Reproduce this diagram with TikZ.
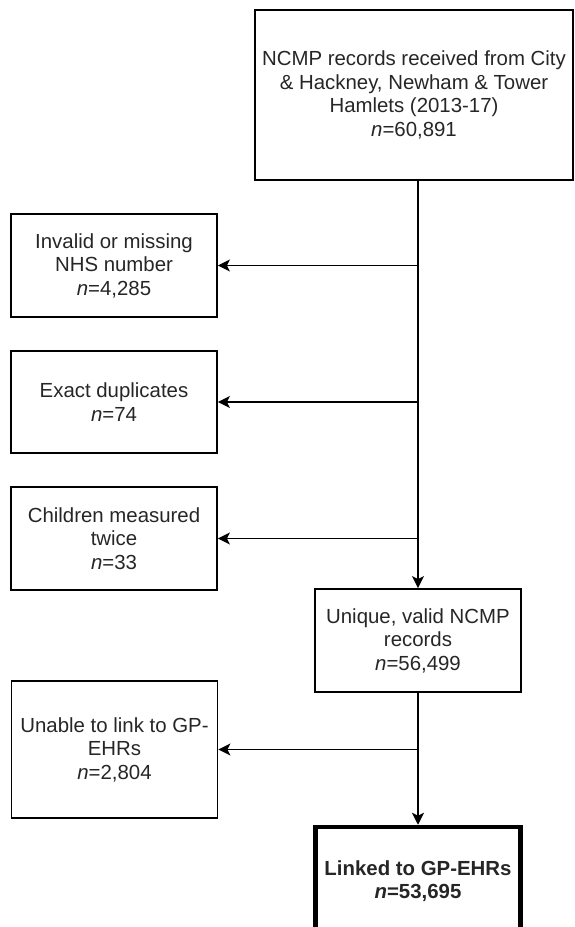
\documentclass[tikz,border=0pt]{standalone}
\usepackage{fontspec}
\setmainfont{Liberation Sans}
\usetikzlibrary{arrows.meta,calc}
\begin{document}
\begin{tikzpicture}[x=1pt,y=-1pt,
  box/.style={draw, line width=1.8pt, align=center, inner sep=0pt, text=black!85,
    font=\fontsize{20.4}{23.5}\selectfont},
  sidebox/.style={box, minimum width=206pt},
  arr/.style={line width=1.8pt, -{Stealth[length=12pt,width=12pt,inset=3pt]}}]
\useasboundingbox (0,0) rectangle (574,927);
\node[box, minimum width=318pt, minimum height=170pt] (top) at (414,95)
  {NCMP records received from City\\ \& Hackney, Newham \& Tower\\ Hamlets (2013-17)\\ \textit{n}=60,891};
\node[sidebox, minimum height=103pt] (b1) at (114,265.5)
  {Invalid or missing\\ NHS number\\ \textit{n}=4,285};
\node[sidebox, minimum height=102pt] (b2) at (114,402)
  {Exact duplicates\\ \textit{n}=74};
\node[sidebox, minimum height=103pt] (b3) at (114,538.5)
  {Children measured\\ twice\\ \textit{n}=33};
\node[box, minimum width=206pt, minimum height=103pt] (uniq) at (418,640.5)
  {Unique, valid NCMP\\ records\\ \textit{n}=56,499};
\node[sidebox, minimum height=137pt] (b5) at (114.5,749.5)
  {Unable to link to GP-\\ EHRs\\ \textit{n}=2,804};
\node[box, line width=4.5pt, minimum width=205pt, minimum height=108pt, font=\fontsize{20.4}{23.5}\selectfont\bfseries] (linked) at (418,881)
  {Linked to GP-EHRs\\ \textit{n}=53,695};
\draw[arr] (uniq.north |- top.south) -- (uniq.north);
\draw[arr] (uniq.north |- b1.east) -- (b1.east);
\draw[arr] (uniq.north |- b2.east) -- (b2.east);
\draw[arr] (uniq.north |- b3.east) -- (b3.east);
\draw[arr] (uniq.south) -- (linked.north);
\draw[arr] (uniq.south |- b5.east) -- (b5.east);
\end{tikzpicture}
\end{document}
